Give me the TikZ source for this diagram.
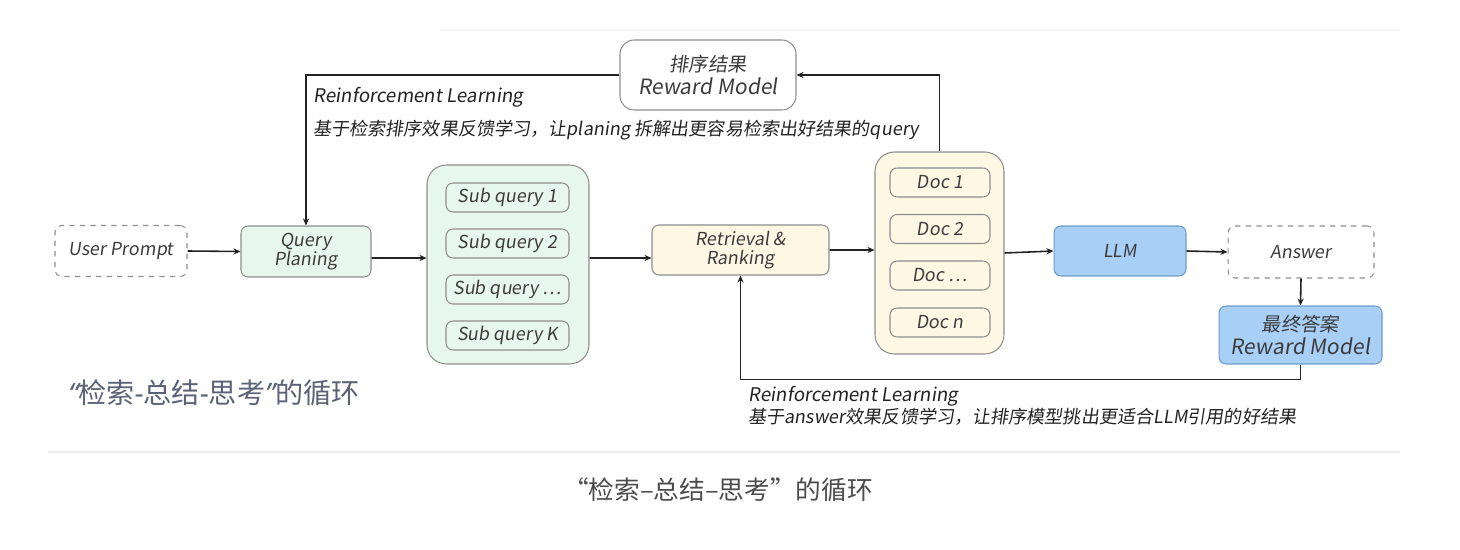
\documentclass[tikz,border=0pt]{standalone}
\usepackage{fontspec}
\setmainfont{Noto Sans CJK SC}
\newfontfamily\slf{Noto Sans CJK SC}[FakeSlant=0.15]
\newfontfamily\latf{Noto Sans}
\usetikzlibrary{arrows.meta}
\definecolor{txt}{HTML}{3C3C3C}
\definecolor{gfill}{HTML}{E8F7EE}
\definecolor{yfill}{HTML}{FDF7E4}
\definecolor{bfill}{HTML}{A8CFF6}
\definecolor{bdraw}{HTML}{6E9BC8}
\definecolor{edge}{HTML}{8E8E8E}
\definecolor{ln}{HTML}{222222}
\definecolor{lbl}{HTML}{5B6275}
\tikzset{
  lab/.style={font=\slf\fontsize{10.2}{12}\selectfont, text=txt, align=center},
  box/.style={lab, draw=edge, line width=0.6pt, rounded corners=4pt},
  dbox/.style={box, dashed},
  gbox/.style={box, fill=gfill},
  ybox/.style={box, fill=yfill},
  bbox/.style={box, fill=bfill, draw=bdraw},
  sbox/.style={gbox, minimum width=2.46cm, minimum height=0.58cm, inner sep=0pt},
  docbox/.style={ybox, minimum width=2.0cm, minimum height=0.58cm, inner sep=0pt},
  arr/.style={draw=ln, line width=0.9pt, -{Stealth[length=4pt,width=3.5pt]}},
  note/.style={font=\slf\fontsize{10.3}{12}\selectfont, text=ln, anchor=west, inner sep=0pt},
}
\begin{document}
\begin{tikzpicture}[x=0.02cm, y=-0.02cm]
\useasboundingbox (0,0) rectangle (1460,550);
\draw[color=black!4, line width=0.6pt] (440,30) -- (1400,30);
\draw[color=black!7, line width=0.6pt] (48,452) -- (1400,452);

\node[dbox, minimum width=2.64cm, minimum height=1.02cm] (UP) at (121,251) {User Prompt};
\node[gbox, minimum width=2.6cm, minimum height=1.02cm] (QP) at (306,251.5) {Query\\[-1pt]Planing};
\node[gbox, minimum width=3.24cm, minimum height=3.98cm, rounded corners=11pt] (SQ) at (508,264.5) {};
\node[sbox] (S1) at (507.5,197.5) {Sub query 1};
\node[sbox] (S2) at (507.5,243.5) {Sub query 2};
\node[sbox] (S3) at (507.5,289.5) {Sub query \ldots};
\node[sbox] (S4) at (507.5,335.5) {Sub query K};
\node[ybox, minimum width=3.54cm, minimum height=1.0cm] (RR) at (740.5,250) {Retrieval \&\\[-1pt]Ranking};
\node[ybox, minimum width=2.58cm, minimum height=4.04cm, rounded corners=11pt] (DC) at (939.5,253) {};
\node[docbox] (D1) at (940,182.5) {Doc 1};
\node[docbox] (D2) at (940,229) {Doc 2};
\node[docbox] (D3) at (940,275.5) {Doc \ldots};
\node[docbox] (D4) at (940,322.5) {Doc n};
\node[bbox, minimum width=2.64cm, minimum height=1.0cm] (LLM) at (1120,251) {LLM};
\node[dbox, minimum width=2.92cm, minimum height=1.04cm] (ANS) at (1301,252) {Answer};
\node[bbox, minimum width=3.26cm, minimum height=1.16cm, font=\slf\fontsize{12}{14}\selectfont] (FR) at (1300.5,335) {{\fontsize{11}{13}\selectfont 最终答案}\\[-1pt]Reward Model};
\node[box, fill=white, minimum width=3.52cm, minimum height=1.4cm, rounded corners=8pt, font=\slf\fontsize{12}{14}\selectfont] (RM) at (708,75) {{\fontsize{11}{13}\selectfont 排序结果}\\[-1pt]Reward Model};

\draw[arr] (UP.east) -- (QP.west);
\draw[arr] ([yshift=-0.13cm]QP.east) -- ([yshift=0.13cm]SQ.west);
\draw[arr] ([yshift=0.13cm]SQ.east) -- ([yshift=-0.16cm]RR.west);
\draw[arr] (RR.east) -- ([yshift=0.06cm]DC.west);
\draw[arr] (DC.east) -- (LLM.west);
\draw[arr] (LLM.east) -- (ANS.west);
\draw[arr] (ANS.south) -- (FR.north);
\draw[arr] (FR.south) -- ++(0,15) -| (RR.south);
\draw[arr] (DC.north) |- (RM.east);
\draw[arr] (RM.west) -| (QP.north);

\node[note, font=\slf\fontsize{10.7}{13}\selectfont] (T1) at (313,97) {Reinforcement Learning};
\node[note] (T2) at (313,130) {基于检索排序效果反馈学习，让planing 拆解出更容易检索出好结果的query};
\node[note, font=\slf\fontsize{10.7}{13}\selectfont] (T3) at (748,396) {Reinforcement Learning};
\node[note] (T4) at (748,417) {基于answer效果反馈学习，让排序模型挑出更适合LLM引用的好结果};
\node[anchor=west, inner sep=0pt, text=lbl, font=\fontsize{16}{18}\selectfont] (LB) at (68,393) {{\latf\itshape “}检索{\latf -}总结{\latf -}思考{\latf\itshape ”}的循环};
\node[inner sep=0pt, text=black!70, font=\fontsize{14.6}{17}\selectfont] (CAP) at (718,490) {“检索–总结–思考”的循环};
\end{tikzpicture}
\end{document}
